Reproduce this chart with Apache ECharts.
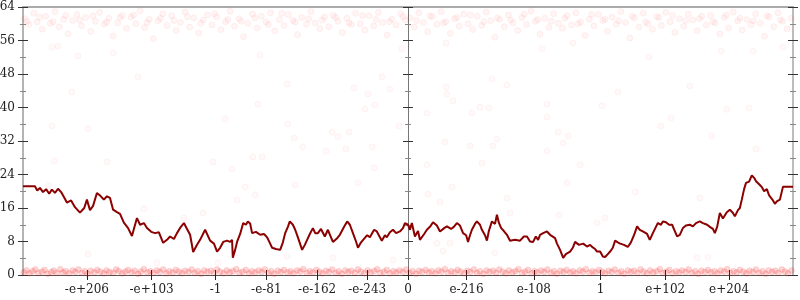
<!DOCTYPE html>
<html>
<head>
<meta charset="utf-8">
<script src="https://cdn.jsdelivr.net/npm/echarts@6/dist/echarts.min.js"></script>
<style>html,body{margin:0;padding:0;background:#fff}#c{width:800px;height:300px}</style>
</head>
<body>
<div id="c"></div>
<script>
// x tick positions (axis units; 0 = centre, +/-1000 = ends) and their labels
var xTickValues = [-834, -666, -500, -368, -236, -106, 0, 152, 327, 500, 668, 834];
var xTickLabels = ['-e+206', '-e+103', '-1', '-e-81', '-e-162', '-e-243', '0', 'e-216', 'e-108', '1', 'e+102', 'e+204'];
var yMin = 0, yMax = 64, yStep = 8;

// dark red line
var lineData = [
[-1000,21.2],[-969,21.2],[-963,20.2],[-956,20.8],[-948,19.8],[-940,20.5],[-932,19.4],[-925,20.4],[-917,19.6],[-909,20.6],[-901,19.8],[-893,18.5],[-886,17.3],[-875,17.8],[-865,16.2],[-852,14.9],[-841,16.0],[-834,18.0],[-826,15.5],[-818,16.5],[-808,19.6],[-800,19.0],[-790,18.0],[-782,18.8],[-774,18.4],[-766,15.6],[-756,15.0],[-748,14.6],[-738,12.5],[-727,11.2],[-717,9.3],[-712,11.0],[-704,13.6],[-696,12.0],[-686,12.4],[-678,11.2],[-667,10.3],[-657,10.0],[-647,10.2],[-636,7.7],[-626,8.4],[-618,9.2],[-608,8.6],[-600,10.0],[-590,11.5],[-582,12.4],[-574,11.0],[-566,9.6],[-558,5.5],[-548,7.2],[-540,8.4],[-527,10.8],[-514,8.2],[-504,7.5],[-496,5.6],[-488,6.5],[-480,7.9],[-470,8.2],[-462,7.9],[-457,8.4],[-455,4.1],[-449,6.0],[-444,7.9],[-436,9.8],[-428,12.4],[-421,12.0],[-416,12.8],[-410,12.3],[-405,10.0],[-395,10.3],[-384,9.6],[-374,9.8],[-366,9.0],[-358,7.5],[-353,6.5],[-343,6.2],[-332,6.0],[-325,7.8],[-319,10.0],[-312,11.5],[-307,12.8],[-299,12.0],[-293,10.8],[-286,9.0],[-275,6.0],[-268,7.2],[-262,8.4],[-255,9.8],[-247,11.2],[-241,10.0],[-234,10.0],[-226,11.0],[-216,9.2],[-208,10.8],[-200,9.0],[-195,7.9],[-184,8.8],[-177,9.6],[-166,11.5],[-158,12.8],[-151,12.0],[-143,10.0],[-135,8.0],[-130,6.5],[-122,7.8],[-117,8.2],[-106,9.5],[-99,9.0],[-88,10.8],[-81,10.4],[-73,9.0],[-68,8.2],[-60,9.5],[-55,9.0],[-47,10.2],[-39,10.8],[-31,10.0],[-21,10.4],[-13,11.2],[-8,12.4],[0,12.0],
[5,10.8],[10,12.4],[18,9.2],[26,10.5],[31,8.4],[42,9.8],[49,10.8],[57,11.5],[65,12.6],[75,11.8],[83,10.4],[94,11.2],[101,11.6],[112,11.0],[119,11.5],[127,12.4],[135,11.8],[143,10.0],[151,9.5],[156,7.9],[161,9.5],[166,10.8],[174,12.2],[179,12.8],[187,12.0],[192,10.8],[200,9.5],[205,8.2],[210,10.5],[218,12.8],[226,12.2],[231,14.4],[236,12.5],[242,11.2],[249,10.5],[257,9.6],[265,8.2],[278,8.4],[291,8.2],[301,9.2],[309,9.2],[317,8.0],[325,7.9],[332,9.2],[338,8.4],[343,9.6],[351,10.0],[361,10.4],[369,9.6],[374,10.0],[382,8.8],[387,7.5],[395,6.0],[403,4.1],[410,5.0],[421,5.6],[428,6.5],[434,7.9],[444,7.2],[455,7.5],[465,6.8],[473,7.2],[478,6.7],[486,6.2],[491,5.6],[499,5.6],[506,4.4],[512,4.3],[519,5.0],[525,5.6],[532,6.5],[538,8.2],[545,7.8],[551,7.5],[561,7.2],[571,6.7],[579,7.8],[587,9.5],[595,11.6],[602,10.8],[610,10.4],[621,9.8],[628,8.4],[636,10.0],[644,11.5],[649,12.4],[657,12.0],[662,12.8],[670,12.6],[678,12.0],[686,12.0],[693,10.5],[699,9.2],[706,9.6],[714,11.2],[722,11.8],[732,12.0],[740,11.6],[748,12.4],[758,12.8],[766,12.4],[777,12.0],[784,11.5],[792,11.0],[797,10.0],[803,11.5],[810,14.8],[818,13.5],[828,15.0],[836,15.6],[844,14.8],[849,14.0],[857,15.5],[862,16.0],[867,18.0],[873,20.5],[878,22.0],[886,22.3],[893,23.8],[899,23.2],[904,22.4],[909,22.8],[914,21.5],[919,21.0],[925,20.0],[932,20.5],[938,19.0],[943,19.3],[948,17.8],[953,17.0],[958,17.6],[966,18.0],[974,21.1],[1000,21.1]
];

// faint red points: band near the top
var topPoints = [
[-996,61.2],[-985,59.8],[-972,62.5],[-963,60.4],[-950,58.7],[-941,61.8],[-929,60.1],[-917,62.9],[-906,59.3],[-895,61.0],[-883,57.6],[-871,60.8],[-860,62.2],[-848,59.5],[-837,61.5],[-824,58.2],[-812,60.6],[-801,62.7],[-789,59.9],[-777,61.3],[-766,57.1],[-754,60.2],[-742,62.0],[-731,58.9],[-719,61.6],[-707,60.0],[-696,63.1],[-684,59.1],[-672,61.1],[-661,56.4],[-649,60.7],[-637,62.4],[-626,59.6],[-614,61.9],[-602,58.4],[-591,60.3],[-579,62.8],[-567,59.2],[-556,61.4],[-544,57.8],[-532,60.9],[-521,62.1],[-509,59.7],[-497,61.7],[-486,58.6],[-474,60.5],[-462,63.0],[-451,59.4],[-439,61.2],[-427,56.9],[-416,60.1],[-404,62.3],[-392,59.0],[-381,61.8],[-369,60.4],[-357,62.6],[-346,58.3],[-334,61.0],[-322,59.6],[-311,62.2],[-299,60.8],[-287,57.4],[-276,61.5],[-264,59.9],[-252,62.9],[-241,60.2],[-229,58.8],[-217,61.6],[-206,59.3],[-194,62.0],[-182,60.6],[-171,57.9],[-159,61.3],[-147,59.8],[-136,62.5],[-124,60.0],[-112,58.5],[-101,61.9],[-89,59.5],[-77,62.7],[-66,60.3],[-54,57.3],[-42,61.1],[-31,59.7],[-19,62.4],[-7,60.9],
[5,61.4],[16,59.2],[28,62.6],[40,60.3],[51,58.1],[63,61.7],[75,59.9],[86,62.9],[98,60.5],[110,57.7],[121,61.2],[133,59.4],[145,62.3],[156,60.0],[168,58.6],[180,61.8],[191,59.6],[203,62.8],[215,60.7],[226,56.8],[238,61.0],[250,59.3],[261,62.1],[273,60.2],[285,58.4],[296,61.5],[308,59.8],[320,63.0],[331,60.6],[343,57.5],[355,61.3],[366,59.1],[378,62.4],[390,60.1],[401,58.9],[413,61.9],[425,59.7],[436,62.6],[448,60.4],[460,57.2],[471,61.1],[483,59.5],[495,62.2],[506,60.8],[518,58.2],[530,61.6],[541,59.9],[553,62.9],[565,60.3],[576,56.6],[588,61.4],[600,59.2],[611,62.5],[623,60.0],[635,58.7],[646,61.7],[658,59.6],[670,62.7],[681,60.5],[693,57.9],[705,61.2],[716,59.4],[728,62.3],[740,60.9],[751,58.3],[763,61.8],[775,59.7],[786,62.0],[798,60.2],[810,57.6],[821,61.5],[833,59.0],[845,62.8],[856,60.7],[868,58.5],[880,61.0],[891,59.8],[903,62.4],[915,60.1],[926,57.0],[938,61.6],[950,59.3],[961,62.6],[973,60.6],[985,58.8],[996,61.3],
[-990,60.6],[-957,61.6],[-922,60.5],[-889,62.0],[-853,60.9],[-818,61.9],[-783,60.4],[-748,61.5],[-713,62.1],[-678,60.3],[-643,61.3],[-608,60.8],[-573,61.7],[-538,60.1],[-503,62.4],[-468,61.0],[-433,60.6],[-398,61.4],[-363,59.8],[-328,62.5],[-293,60.4],[-258,61.2],[-223,60.9],[-188,61.5],[-153,60.2],[-118,62.0],[-83,61.0],[-48,60.5],[-13,61.7],
[22,60.8],[57,61.9],[92,60.2],[127,61.5],[162,62.1],[197,60.5],[232,61.4],[267,60.9],[302,62.3],[337,61.0],[372,60.6],[407,61.3],[442,60.0],[477,62.2],[512,61.1],[547,60.7],[582,61.8],[617,60.4],[652,61.5],[687,62.0],[722,60.8],[757,61.2],[792,60.5],[827,62.1],[862,61.3],[897,60.7],[932,61.9],[967,60.9]
];

// faint red points: band near zero
var bottomPoints = [
[-998,0.6],[-991,1.1],[-983,0.4],[-975,0.9],[-968,1.3],[-960,0.5],[-951,0.8],[-944,1.2],[-936,0.3],[-927,0.7],[-920,1.0],[-912,0.5],[-903,1.4],[-896,0.6],[-889,0.9],[-880,0.4],[-871,1.1],[-864,0.7],[-856,1.3],[-847,0.5],[-839,0.9],[-832,0.3],[-824,1.0],[-815,0.6],[-807,1.2],[-799,0.8],[-790,0.4],[-783,1.1],[-775,0.7],[-766,0.5],[-758,1.3],[-751,0.9],[-742,0.4],[-734,0.8],[-727,1.2],[-718,0.6],[-710,1.0],[-701,0.3],[-694,0.8],[-686,1.4],[-677,0.6],[-669,0.9],[-661,0.5],[-652,1.1],[-645,0.7],[-636,1.3],[-628,0.4],[-620,0.9],[-611,0.6],[-603,1.2],[-595,0.8],[-587,0.4],[-579,1.0],[-570,0.7],[-562,1.3],[-554,0.5],[-546,0.9],[-537,0.3],[-529,1.1],[-521,0.7],[-512,1.0],[-504,0.5],[-496,1.3],[-488,0.8],[-479,0.4],[-471,1.1],[-463,0.6],[-455,0.9],[-446,1.4],[-438,0.5],[-430,0.8],[-421,1.2],[-413,0.4],[-405,0.9],[-397,0.6],[-388,1.1],[-380,0.7],[-372,1.3],[-363,0.5],[-355,0.9],[-347,0.3],[-338,1.0],[-330,0.7],[-322,1.2],[-313,0.6],[-305,0.9],[-297,0.4],[-288,1.1],[-280,0.8],[-272,1.4],[-263,0.5],[-255,0.9],[-247,0.6],[-238,1.2],[-230,0.8],[-222,0.4],[-213,1.0],[-205,0.7],[-197,1.3],[-188,0.5],[-180,0.9],[-172,0.3],[-163,1.1],[-155,0.7],[-147,1.0],[-138,0.5],[-130,1.3],[-122,0.8],[-113,0.4],[-105,1.1],[-97,0.6],[-88,0.9],[-80,1.4],[-72,0.5],[-63,0.8],[-55,1.2],[-47,0.4],[-38,0.9],[-30,0.6],[-22,1.1],[-13,0.7],[-5,1.3],
[4,0.5],[12,0.9],[21,0.3],[29,1.0],[37,0.7],[46,1.2],[54,0.6],[62,0.9],[71,0.4],[79,1.1],[87,0.8],[96,1.4],[104,0.5],[112,0.9],[121,0.6],[129,1.2],[137,0.8],[146,0.4],[154,1.0],[162,0.7],[171,1.3],[179,0.5],[187,0.9],[196,0.3],[204,1.1],[212,0.7],[221,1.0],[229,0.5],[237,1.3],[246,0.8],[254,0.4],[262,1.1],[271,0.6],[279,0.9],[287,1.4],[296,0.5],[304,0.8],[312,1.2],[321,0.4],[329,0.9],[337,0.6],[346,1.1],[354,0.7],[362,1.3],[371,0.5],[379,0.9],[387,0.3],[396,1.0],[404,0.7],[412,1.2],[421,0.6],[429,0.9],[437,0.4],[446,1.1],[454,0.8],[462,1.4],[471,0.5],[479,0.9],[487,0.6],[496,1.2],[504,0.8],[512,0.4],[521,1.0],[529,0.7],[537,1.3],[546,0.5],[554,0.9],[562,0.3],[571,1.1],[579,0.7],[587,1.0],[596,0.5],[604,1.3],[612,0.8],[621,0.4],[629,1.1],[637,0.6],[646,0.9],[654,1.4],[662,0.5],[671,0.8],[679,1.2],[687,0.4],[696,0.9],[704,0.6],[712,1.1],[721,0.7],[729,1.3],[737,0.5],[746,0.9],[754,0.3],[762,1.0],[771,0.7],[779,1.2],[787,0.6],[796,0.9],[804,0.4],[812,1.1],[821,0.8],[829,1.4],[837,0.5],[846,0.9],[854,0.6],[862,1.2],[871,0.8],[879,0.4],[887,1.0],[896,0.7],[904,1.3],[912,0.5],[921,0.9],[929,0.3],[937,1.1],[946,0.7],[954,1.0],[962,0.5],[971,1.3],[979,0.8],[987,0.4],[996,1.1]
];

// faint red points scattered in between
var sparsePoints = [
[-924,54.4],[-909,54.7],[-857,52.3],[-766,53.0],[-701,47.3],[-873,43.7],[-925,35.6],[-831,34.9],[-919,27.2],[-782,27.0],[-475,37.3],[-506,27.0],[-457,25.3],[-403,28.2],[-379,28.2],[-390,40.8],[-384,52.5],[-314,45.6],[-312,36.1],[-296,32.7],[-273,30.6],[-213,29.6],[-197,34.1],[-182,33.0],[-153,34.1],[-161,30.1],[-140,44.7],[-104,43.2],[-112,39.6],[-86,40.6],[-68,47.3],[-47,44.4],[-23,35.6],[-93,30.6],[-88,25.6],[-16,54.0],
[49,38.7],[99,44.9],[101,43.2],[117,41.6],[166,38.7],[187,40.1],[210,39.9],[218,46.8],[257,45.4],[96,31.8],[161,30.8],[221,30.8],[231,32.5],[49,26.3],[192,26.7],[361,40.8],[361,37.7],[390,34.1],[416,33.2],[403,31.5],[361,29.6],[447,26.3],[504,40.4],[545,43.7],[683,37.5],[657,35.6],[732,45.1],[828,39.6],[886,39.9],[789,33.2],[904,30.1],[626,52.1],[348,54.0],[428,55.4],[813,53.5],[896,53.5],[974,54.4],[99,55.4],
[-932,21.3],[-831,5.0],[-686,15.8],[-652,2.9],[-582,13.6],[-423,21.0],[-293,21.5],[-532,14.8],[-397,19.1],[-444,17.9],[-130,22.0],[-195,4.1],[-314,4.5],[-493,2.9],[-39,3.6],[114,21.0],[52,19.3],[83,17.4],[257,18.4],[413,22.0],[392,14.3],[265,14.8],[75,7.6],[109,7.6],[91,5.7],[226,5.3],[491,12.4],[590,19.8],[512,13.6],[751,4.1],[779,4.3],[758,18.4]
];

var labelMap = {};
xTickValues.forEach(function (v, i) { labelMap[v] = xTickLabels[i]; });

var font = 'DejaVu Serif';
function yAx(opts) {
  var base = {
    type: 'value', min: yMin, max: yMax, interval: yStep,
    splitLine: { show: false },
    axisLine: { show: false, onZero: false },
    axisTick: { show: true, length: 5, lineStyle: { color: '#333', width: 1 } },
    minorTick: { show: true, splitNumber: 2, length: 3, lineStyle: { color: '#888', width: 1 } },
    axisLabel: { show: false }
  };
  for (var k in opts) base[k] = opts[k];
  return base;
}

var chart = echarts.init(document.getElementById('c'), null, { renderer: 'canvas' });
chart.setOption({
  animation: false,
  backgroundColor: '#fff',
  grid: { left: 23, right: 7, top: 7, bottom: 25, outerBoundsMode: 'none', containLabel: false },
  xAxis: [
    {
      type: 'value', min: -1000, max: 1000, position: 'bottom',
      splitLine: { show: false },
      axisLine: { show: true, onZero: false, lineStyle: { color: '#555', width: 1 } },
      axisTick: { show: true, length: 5, customValues: xTickValues, lineStyle: { color: '#222', width: 1 } },
      axisLabel: { show: true, customValues: xTickValues, margin: 9, fontFamily: font, fontSize: 12, color: '#222',
        formatter: function (v) { return labelMap[v] !== undefined ? labelMap[v] : ''; } }
    },
    {
      type: 'value', min: -1000, max: 1000, position: 'bottom',
      splitLine: { show: false },
      axisLine: { show: false, onZero: false },
      axisTick: { show: true, inside: true, length: 5, customValues: xTickValues, lineStyle: { color: '#222', width: 1 } },
      axisLabel: { show: false }
    },
    {
      type: 'value', min: -1000, max: 1000, position: 'top',
      splitLine: { show: false },
      axisLine: { show: true, onZero: false, lineStyle: { color: '#aaa', width: 2 } },
      axisTick: { show: false }, axisLabel: { show: false }
    }
  ],
  yAxis: [
    yAx({ position: 'left',
      axisLine: { show: true, onZero: false, lineStyle: { color: '#b4b4b4', width: 2 } },
      axisLabel: { show: true, margin: 8, fontFamily: font, fontSize: 12, color: '#222' } }),
    yAx({ position: 'left',
      axisTick: { show: true, inside: true, length: 5, lineStyle: { color: '#333', width: 1 } },
      minorTick: { show: true, splitNumber: 2, length: 3, lineStyle: { color: '#888', width: 1 } } }),
    yAx({ position: 'left',
      axisLine: { show: true, onZero: true, onZeroAxisIndex: 0, lineStyle: { color: '#777', width: 1 } } }),
    yAx({ position: 'left',
      axisLine: { show: false, onZero: true, onZeroAxisIndex: 0 },
      axisTick: { show: true, inside: true, length: 5, lineStyle: { color: '#333', width: 1 } },
      minorTick: { show: true, splitNumber: 2, length: 3, lineStyle: { color: '#888', width: 1 } } }),
    yAx({ position: 'right',
      axisLine: { show: true, onZero: false, lineStyle: { color: '#bdbdbd', width: 2 } } }),
    yAx({ position: 'right',
      axisTick: { show: true, inside: true, length: 5, lineStyle: { color: '#333', width: 1 } },
      minorTick: { show: true, splitNumber: 2, length: 3, lineStyle: { color: '#888', width: 1 } } })
  ],
  series: [
    { type: 'scatter', data: sparsePoints, symbolSize: 6, silent: true,
      itemStyle: { color: 'rgba(255,0,0,0.03)', borderColor: 'rgba(255,0,0,0.06)', borderWidth: 1 } },
    { type: 'scatter', data: topPoints, symbolSize: 6, silent: true,
      itemStyle: { color: 'rgba(255,0,0,0.05)', borderColor: 'rgba(255,0,0,0.07)', borderWidth: 1 } },
    { type: 'scatter', data: bottomPoints, symbolSize: 6, silent: true,
      itemStyle: { color: 'rgba(240,0,0,0.2)', borderColor: 'rgba(240,0,0,0.12)', borderWidth: 1 } },
    { type: 'line', data: lineData, showSymbol: false, symbol: 'none', silent: true,
      lineStyle: { color: '#8b0000', width: 2 } }
  ]
});
</script>
</body>
</html>
